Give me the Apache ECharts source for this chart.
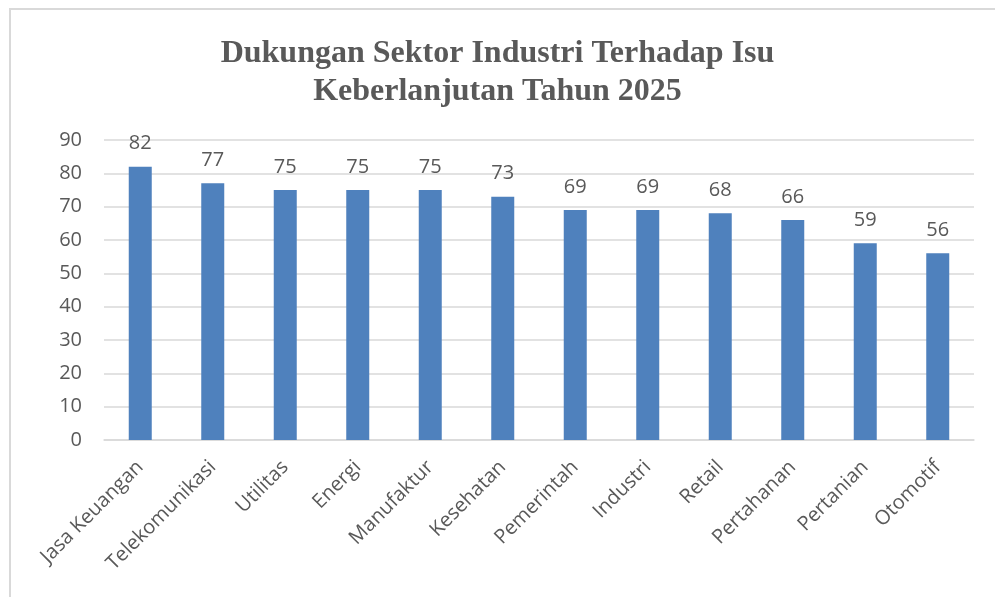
<!DOCTYPE html>
<html>
<head>
<meta charset="utf-8">
<script src="https://cdn.jsdelivr.net/npm/echarts@6/dist/echarts.min.js"></script>
<style>
  html, body { margin: 0; padding: 0; background: #fff; }
  #frame {
    position: absolute; left: 9px; top: 8px; right: -5px; bottom: -5px;
    border-top: 2px solid #d9d9d9; border-left: 2px solid #d9d9d9;
  }
  #chart { position: absolute; left: 0; top: 0; width: 995px; height: 597px; }
</style>
</head>
<body>
<div id="frame"></div>
<div id="chart"></div>
<script>
// data
var titleText = "Dukungan Sektor Industri Terhadap Isu\nKeberlanjutan Tahun 2025";
var sectors = ["Jasa Keuangan", "Telekomunikasi", "Utilitas", "Energi", "Manufaktur", "Kesehatan",
  "Pemerintah", "Industri", "Retail", "Pertahanan", "Pertanian", "Otomotif"];
var support = [82, 77, 75, 75, 75, 73, 69, 69, 68, 66, 59, 56];

var textColor = "#595959";
var sansFont = "'Open Sans', 'Noto Sans', sans-serif";

var chart = echarts.init(document.getElementById("chart"));
chart.setOption({
  animation: false,
  backgroundColor: "transparent",
  title: {
    text: titleText,
    left: "center",
    top: 30,
    textStyle: {
      fontFamily: "'Liberation Serif', 'DejaVu Serif', serif",
      fontWeight: "bold",
      fontSize: 32,
      lineHeight: 38,
      color: textColor
    }
  },
  grid: {
    left: 104,
    right: 21,
    top: 140,
    bottom: 157
  },
  xAxis: {
    type: "category",
    data: sectors,
    axisTick: { show: false },
    axisLine: { lineStyle: { color: "#d9d9d9", width: 1.5 } },
    axisLabel: {
      rotate: 45,
      interval: 0,
      margin: 24,
      color: textColor,
      fontSize: 20,
      fontFamily: sansFont
    }
  },
  yAxis: {
    type: "value",
    min: 0,
    max: 90,
    interval: 10,
    axisLine: { show: false },
    axisTick: { show: false },
    axisLabel: {
      margin: 22,
      color: textColor,
      fontSize: 20,
      fontFamily: sansFont
    },
    splitLine: { lineStyle: { color: "#d9d9d9", width: 1.5 } }
  },
  series: [
    {
      type: "bar",
      data: support,
      barWidth: 23,
      itemStyle: { color: "#4f81bd" },
      label: {
        show: true,
        position: "top",
        distance: 13,
        color: textColor,
        fontSize: 20,
        fontFamily: sansFont
      }
    }
  ]
});
</script>
</body>
</html>
